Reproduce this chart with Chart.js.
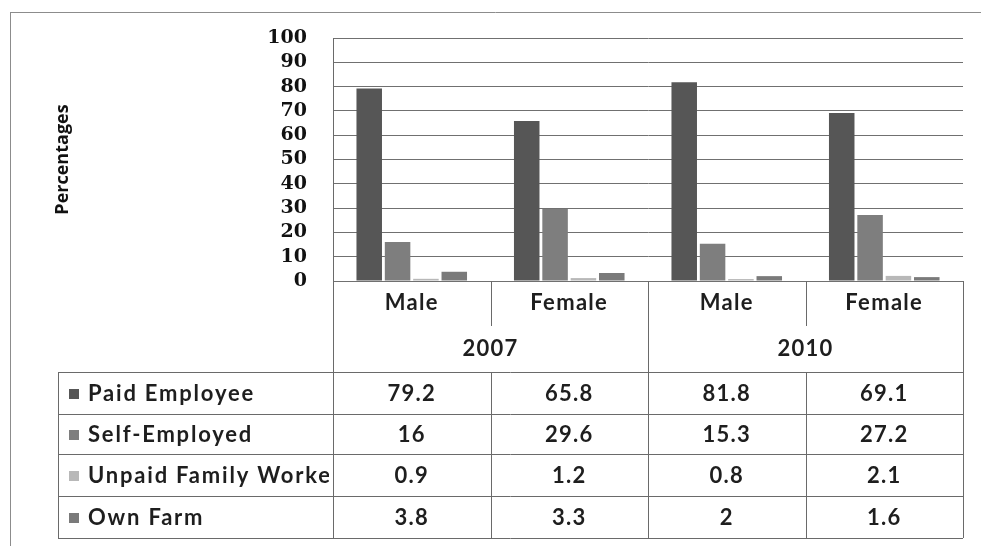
<!DOCTYPE html>
<html>
<head>
<meta charset="utf-8">
<script src="https://cdn.jsdelivr.net/npm/chart.js@4"></script>
<style>
  html, body { margin: 0; padding: 0; background: #fff; }
  #wrap { width: 981px; height: 546px; }
</style>
</head>
<body>
<div id="wrap"><canvas id="employmentChart" width="981" height="546"></canvas></div>
<script>
var categories = ['Male', 'Female', 'Male', 'Female'];
var years = ['2007', '2010'];
var seriesNames = ['Paid Employee', 'Self-Employed', 'Unpaid Family Worker', 'Own Farm'];
var paidEmployee = [79.2, 65.8, 81.8, 69.1];
var selfEmployed = [16, 29.6, 15.3, 27.2];
var unpaidFamily = [0.9, 1.2, 0.8, 2.1];
var ownFarm = [3.8, 3.3, 2, 1.6];
var seriesColors = ['#565656', '#7e7e7e', '#b8b8b8', '#7a7a7a'];

var tableFont = 'bold 22px Lato';
var lineColor = '#6a6a6a';

function hline(ctx, x1, x2, y) {
    ctx.beginPath();
    ctx.moveTo(x1, y + 0.5);
    ctx.lineTo(x2, y + 0.5);
    ctx.stroke();
}

function vline(ctx, x, y1, y2) {
    ctx.beginPath();
    ctx.moveTo(x + 0.5, y1);
    ctx.lineTo(x + 0.5, y2);
    ctx.stroke();
}

// white page + scanned frame
var framePlugin = {
    id: 'frame',
    beforeDraw: function (chart) {
        var ctx = chart.ctx;
        ctx.save();
        ctx.fillStyle = '#fff';
        ctx.fillRect(0, 0, chart.width, chart.height);
        ctx.strokeStyle = '#8c8c8c';
        ctx.lineWidth = 1;
        vline(ctx, 10, 12, chart.height);
        hline(ctx, 10, chart.width, 12);
        ctx.restore();
    }
};

// data table under the plot
var tablePlugin = {
    id: 'dataTable',
    afterDraw: function (chart) {
        var ctx = chart.ctx;
        var area = chart.chartArea;
        var xScale = chart.scales.x;
        var colW = (area.right - area.left) / categories.length;
        var left = Math.round(area.left);
        var right = Math.round(area.right);
        var top = Math.round(area.bottom);
        var headerBottom = top + 45;
        var yearBottom = top + 91;
        var rowH = [42, 40, 42, 42];
        var tableLeft = 58;
        var values = chart.data.datasets.map(function (d) { return d.data; });

        ctx.save();
        ctx.strokeStyle = lineColor;
        ctx.lineWidth = 1;

        // header lines
        vline(ctx, left, top, yearBottom);
        vline(ctx, right, top, yearBottom);
        for (var i = 1; i < categories.length; i++) {
            var bx = Math.round(left + colW * i);
            vline(ctx, bx, top, i === 2 ? yearBottom : headerBottom);
        }

        // body grid
        var y = yearBottom;
        hline(ctx, tableLeft, right, y);
        for (var r = 0; r < rowH.length; r++) {
            y += rowH[r];
            hline(ctx, tableLeft, right, y);
        }
        vline(ctx, tableLeft, yearBottom, y);
        vline(ctx, right, yearBottom, y);
        for (var c = 0; c <= categories.length; c++) {
            vline(ctx, Math.round(left + colW * c), yearBottom, y);
        }

        ctx.fillStyle = '#1e1e1e';
        ctx.font = tableFont;
        ctx.letterSpacing = '1.3px';
        ctx.textAlign = 'center';
        ctx.textBaseline = 'middle';

        categories.forEach(function (cat, i) {
            ctx.fillText(cat, xScale.getPixelForValue(i), top + 22);
        });
        years.forEach(function (yr, i) {
            ctx.fillText(yr, left + colW * (i * 2 + 1), top + 68);
        });

        var rowTop = yearBottom;
        chart.data.datasets.forEach(function (ds, r) {
            var cy = rowTop + rowH[r] / 2 + 1;
            // legend key
            ctx.fillStyle = ds.backgroundColor;
            ctx.fillRect(69, cy - 5, 10, 10);
            // row label, clipped at the first column
            ctx.save();
            ctx.beginPath();
            ctx.rect(tableLeft, rowTop, left - tableLeft - 4, rowH[r]);
            ctx.clip();
            ctx.fillStyle = '#1e1e1e';
            ctx.textAlign = 'left';
            ctx.letterSpacing = '1.8px';
            ctx.fillText(ds.label, 88, cy);
            ctx.restore();
            ctx.fillStyle = '#1e1e1e';
            ctx.textAlign = 'center';
            values[r].forEach(function (v, i) {
                ctx.fillText(String(v), xScale.getPixelForValue(i), cy);
            });
            rowTop += rowH[r];
        });
        ctx.restore();
    }
};

var datasets = [paidEmployee, selfEmployed, unpaidFamily, ownFarm].map(function (arr, i) {
    return {
        label: seriesNames[i],
        data: arr,
        backgroundColor: seriesColors[i],
        borderWidth: 0,
        categoryPercentage: 0.72,
        barPercentage: 0.9
    };
});

new Chart(document.getElementById('employmentChart'), {
    type: 'bar',
    data: {
        labels: categories,
        datasets: datasets
    },
    options: {
        responsive: false,
        animation: false,
        layout: {
            padding: { left: 48, top: 38, right: 18, bottom: 265 }
        },
        plugins: {
            legend: { display: false },
            tooltip: { enabled: false }
        },
        scales: {
            x: {
                display: false
            },
            y: {
                min: 0,
                max: 100,
                afterFit: function (scale) { scale.width = 333 - 48; },
                ticks: {
                    stepSize: 10,
                    autoSkip: false,
                    padding: 26,
                    color: '#111',
                    font: { family: 'DejaVu Serif', weight: 'bold', size: 19 }
                },
                grid: {
                    color: '#707070',
                    drawTicks: false
                },
                border: { display: true, color: lineColor },
                title: {
                    display: true,
                    text: 'Percentages',
                    color: '#111',
                    font: { family: 'Open Sans', weight: 'bold', size: 18 }
                }
            }
        }
    },
    plugins: [framePlugin, tablePlugin]
});
</script>
</body>
</html>
